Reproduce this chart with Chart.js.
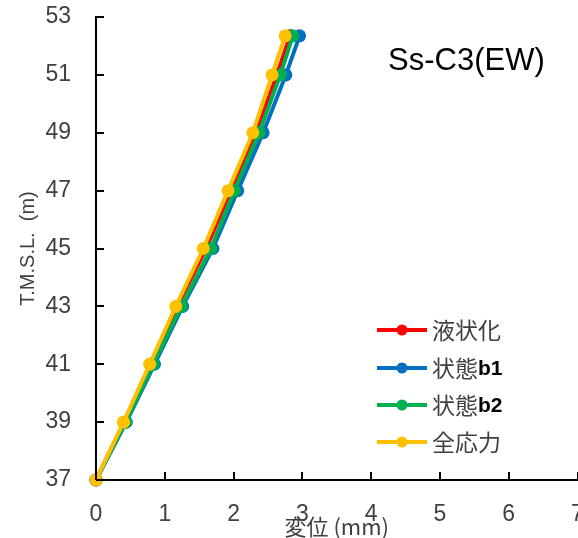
<!DOCTYPE html>
<html>
<head>
<meta charset="utf-8">
<script src="https://cdn.jsdelivr.net/npm/chart.js@4"></script>
<style>
  html, body { margin: 0; padding: 0; background: #fff; overflow: hidden; }
  #wrap { width: 584px; height: 538px; }
</style>
</head>
<body>
<div id="wrap"><canvas id="grafico"></canvas></div>
<script>
  // 標高 (T.M.S.L.)
  const elevacoes = [37, 39, 41, 43, 45, 47, 49, 51, 52.35];
  // 変位 (mm)
  const liquefacao = [0, 0.41, 0.79, 1.18, 1.60, 1.96, 2.33, 2.63, 2.82];
  const estadoB1 = [0, 0.44, 0.85, 1.26, 1.70, 2.06, 2.43, 2.76, 2.96];
  const estadoB2 = [0, 0.43, 0.83, 1.24, 1.67, 2.01, 2.37, 2.68, 2.86];
  const tensaoTotal = [0, 0.40, 0.78, 1.16, 1.56, 1.92, 2.28, 2.56, 2.75];

  const nomes = ['液状化', '状態b1', '状態b2', '全応力'];
  const cores = ['#FF0000', '#0070C0', '#00B050', '#FFC000'];
  const series = [liquefacao, estadoB1, estadoB2, tensaoTotal];
  const titulo = 'Ss-C3(EW)';

  const fonteLatina = '"Liberation Sans", Arial, "Noto Sans CJK JP", sans-serif';

  function pontos(xs) {
    return xs.map((x, i) => ({ x: x, y: elevacoes[i] }));
  }

  // 内向きの目盛り、タイトル、凡例
  const extras = {
    id: 'extras',
    afterDraw(chart) {
      const ctx = chart.ctx;
      const area = chart.chartArea;
      const sx = chart.scales.x;
      const sy = chart.scales.y;
      ctx.save();
      ctx.strokeStyle = '#000';
      ctx.lineWidth = 2;
      sy.ticks.forEach(t => {
        const y = Math.round(sy.getPixelForValue(t.value));
        ctx.beginPath();
        ctx.moveTo(area.left, y);
        ctx.lineTo(area.left + 8, y);
        ctx.stroke();
      });
      sx.ticks.forEach(t => {
        const x = Math.round(sx.getPixelForValue(t.value));
        ctx.beginPath();
        ctx.moveTo(x, area.bottom);
        ctx.lineTo(x, area.bottom - 8);
        ctx.stroke();
      });

      ctx.fillStyle = '#000';
      ctx.font = '31px ' + fonteLatina;
      ctx.textBaseline = 'middle';
      ctx.textAlign = 'left';
      ctx.fillText(titulo, 388, 61);

      // 凡例
      const linhas = [330, 368, 405, 442];
      nomes.forEach((nome, i) => {
        const y = linhas[i];
        ctx.strokeStyle = cores[i];
        ctx.lineWidth = 4;
        ctx.beginPath();
        ctx.moveTo(377, y);
        ctx.lineTo(427, y);
        ctx.stroke();
        ctx.fillStyle = cores[i];
        ctx.beginPath();
        ctx.arc(402, y, 5.5, 0, Math.PI * 2);
        ctx.fill();
        ctx.fillStyle = '#404040';
        ctx.textAlign = 'left';
        const m = nome.match(/^(.*?)(b\d)?$/);
        ctx.font = '23px "Noto Sans CJK JP", sans-serif';
        ctx.fillText(m[1], 432, y);
        if (m[2]) {
          const w = ctx.measureText(m[1]).width;
          ctx.fillStyle = '#000';
          ctx.font = 'bold 21px ' + fonteLatina;
          ctx.fillText(m[2], 432 + w, y + 1);
        }
      });
      ctx.restore();
    }
  };

  const datasets = series.map((s, i) => ({
    label: nomes[i],
    data: pontos(s),
    showLine: true,
    borderColor: cores[i],
    backgroundColor: cores[i],
    borderWidth: 4,
    pointRadius: 6.5,
    pointHoverRadius: 6.5,
    pointBorderWidth: 0,
    clip: false,
    order: 4 - i
  }));

  window.grafico = new Chart(document.getElementById('grafico'), {
    type: 'scatter',
    data: { datasets },
    options: {
      responsive: true,
      maintainAspectRatio: false,
      animation: false,
      layout: { padding: { top: 17, right: 0, left: 0, bottom: 0 } },
      plugins: {
        legend: { display: false },
        tooltip: { enabled: false }
      },
      scales: {
        x: {
          type: 'linear',
          min: 0,
          max: 7,
          ticks: {
            stepSize: 1,
            color: '#404040',
            padding: 21,
            font: { size: 23, family: fonteLatina }
          },
          grid: { display: true, drawOnChartArea: false, drawTicks: false },
          border: { color: '#000', width: 2 },
          title: {
            display: true,
            text: '変位 (mm)',
            color: '#404040',
            padding: { top: 0, bottom: -2 },
            font: { size: 22, family: '"Noto Sans CJK JP", sans-serif' }
          },
          afterFit(scale) {
            scale.height = 58;
            scale.paddingLeft = 0;
            scale.paddingRight = 0;
          }
        },
        y: {
          type: 'linear',
          min: 37,
          max: 53,
          ticks: {
            stepSize: 2,
            color: '#404040',
            padding: 25,
            font: { size: 23, family: fonteLatina }
          },
          grid: { display: true, drawOnChartArea: false, drawTicks: false },
          border: { color: '#000', width: 2 },
          title: {
            display: true,
            text: 'T.M.S.L.  (m)',
            color: '#404040',
            padding: { top: 16, bottom: 0 },
            font: { size: 20, family: fonteLatina }
          },
          afterFit(scale) {
            scale.width = 96;
            scale.paddingTop = 0;
            scale.paddingBottom = 0;
          }
        }
      }
    },
    plugins: [extras]
  });
</script>
</body>
</html>
